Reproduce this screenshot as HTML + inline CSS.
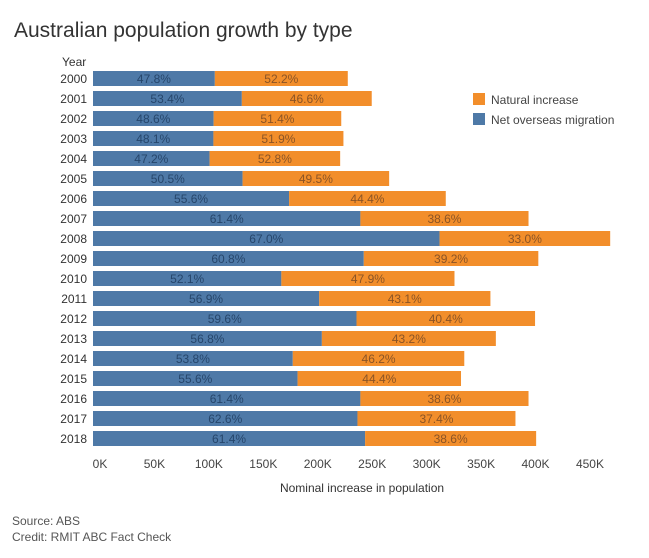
<!DOCTYPE html>
<html><head><meta charset="utf-8"><style>
body{margin:0;background:#fff;font-family:"Liberation Sans","DejaVu Sans",sans-serif;}
svg text{font-family:"Liberation Sans","DejaVu Sans",sans-serif;}
</style></head><body>
<svg id="c" width="649" height="553">
<text x="14" y="37" font-size="21" fill="#333">Australian population growth by type</text>
<text x="62" y="66" font-size="12" fill="#333">Year</text>
<rect x="473" y="93" width="12" height="12" fill="#f28e2b"/>
<text x="491" y="104" font-size="12" fill="#444">Natural increase</text>
<rect x="473" y="113" width="12" height="12" fill="#4e79a7"/>
<text x="491" y="124" font-size="12" fill="#444">Net overseas migration</text>
<text x="362" y="492" font-size="12" fill="#333" text-anchor="middle">Nominal increase in population</text>
<text x="12" y="525" font-size="12" fill="#555">Source: ABS</text>
<text x="12" y="541" font-size="12" fill="#555">Credit: RMIT ABC Fact Check</text>
<g id="bars"></g>
</svg>
<script>
const years=[2000,2001,2002,2003,2004,2005,2006,2007,2008,2009,2010,2011,2012,2013,2014,2015,2016,2017,2018];
const migration=[111.9,136.7,110.8,110.6,107.1,137.4,180.1,245.6,318.3,248.7,173.0,207.7,242.0,210.2,183.5,187.9,245.6,242.9,249.9];
const natural=[122.1,119.3,117.2,119.4,119.9,134.6,143.9,154.4,156.7,160.3,159.0,157.3,164.0,159.8,157.5,150.1,154.4,145.1,157.1];
const ticks=[0,50,100,150,200,250,300,350,400,450];
const NS="http://www.w3.org/2000/svg";
const g=document.getElementById('bars');
const x=v=>93+v*1.0888;
const y=i=>71+i*20;
function mk(t,a){const e=document.createElementNS(NS,t);for(const k in a)e.setAttribute(k,a[k]);g.appendChild(e);return e;}
years.forEach((yr,i)=>{
 const tot=migration[i]+natural[i];
 const l=mk('text',{x:87,y:y(i)+12,'font-size':12,fill:'#333','text-anchor':'end'});l.textContent=yr;
 
 
 const b=mk('rect',{x:x(0),y:y(i),width:x(migration[i])-x(0),height:15,fill:'#4e79a7'});
 
 
 const o=mk('rect',{x:x(migration[i]),y:y(i),width:x(tot)-x(migration[i]),height:15,fill:'#f28e2b'});
 
 
 const t1=mk('text',{x:(x(0)+x(migration[i]))/2,y:y(i)+12,'font-size':12,fill:'#26466b','text-anchor':'middle'});
 t1.textContent=(migration[i]/tot*100).toFixed(1)+'%';
 
 
 const t2=mk('text',{x:(x(migration[i])+x(tot))/2,y:y(i)+12,'font-size':12,fill:'#8a5426','text-anchor':'middle'});
 t2.textContent=(natural[i]/tot*100).toFixed(1)+'%';
 
 
});
ticks.forEach(v=>{
 const t=mk('text',{x:x(v)+7,y:468,'font-size':12,fill:'#444','text-anchor':'middle'});
 t.textContent=v+'K';
 
 
});
</script>
</body></html>
